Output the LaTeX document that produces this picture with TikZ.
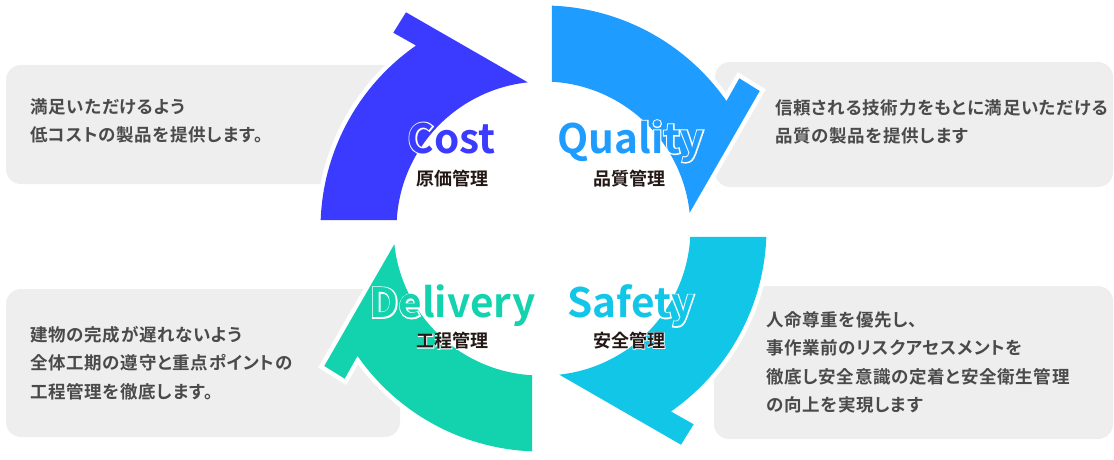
\documentclass[tikz,border=0pt]{standalone}
\usepackage{fontspec}
\newfontfamily\jpb{Noto Sans CJK JP Bold}
\newfontfamily\jpbody{Noto Sans CJK JP Bold}[RawFeature=+palt, LetterSpace=4]
\newfontfamily\jpbhalo{Noto Sans CJK JP Bold}[FakeBold=6]
\definecolor{costc}{HTML}{3B3BFF}
\definecolor{qualc}{HTML}{1E9CFF}
\definecolor{safec}{HTML}{12C6E8}
\definecolor{delic}{HTML}{13D3AE}
\definecolor{boxc}{HTML}{EEEEEE}
\definecolor{bodyc}{HTML}{4A4A4A}
\definecolor{lblc}{HTML}{231815}
\tikzset{
  infobox/.style={fill=boxc, rounded corners=15pt},
  arrowbody/.style={preaction={draw=white, line width=9pt, line join=miter}},
  bodytxt/.style={anchor=base west, inner sep=0pt, text=bodyc, font=\jpbody\fontsize{17.5}{20}\selectfont},
  biglbl/.style={anchor=base, inner sep=0pt, font=\jpb\fontsize{40.5}{41}\selectfont},
  bighalo/.style={anchor=base, inner sep=0pt, text=white, font=\jpbhalo\fontsize{40.5}{41}\selectfont},
  smalllbl/.style={inner sep=0pt, text=lblc, font=\jpb\fontsize{18}{18}\selectfont},
  smallhalo/.style={inner sep=0pt, text=white, font=\jpbhalo\fontsize{18}{18}\selectfont},
}
\newcommand\cyclearrow[3]{%
  \begin{scope}[shift={#2}, rotate=#1]
    \fill[#3, arrowbody] (177.82:223) arc[start angle=177.82, end angle=124.86, radius=223]
      -- (-150.2,195.8) -- (-137.5,216.2) -- (96.14:147)
      arc[start angle=96.14, end angle=176.69, radius=147] -- cycle;
  \end{scope}}
\newcommand\biglabel[4]{%
  \node[bighalo] (#1h) at #2 {#4};
  \node[biglbl, text=#3] (#1) at #2 {#4};}
\newcommand\smalllabel[3]{%
  \node[smallhalo] (#1h) at #2 {#3};
  \node[smalllbl] (#1) at #2 {#3};}
\begin{document}
\begin{tikzpicture}[x=1pt, y=1pt]
\useasboundingbox (0,0) rectangle (1114,459);
% info boxes
\fill[infobox] (6,275) rectangle (400,394);
\fill[infobox] (715,272) rectangle (1113,397);
\fill[infobox] (6,22) rectangle (400,170);
\fill[infobox] (714,20) rectangle (1113,173);
% cycle arrows
\cyclearrow{0}{(543.5,230.5)}{costc}
\cyclearrow{-90}{(543.5,230.5)}{qualc}
\cyclearrow{-180}{(543.5,230.5)}{safec}
\cyclearrow{90}{(540.5,230.5)}{delic}
% labels
\biglabel{cost}{(451.5,305.7)}{costc}{Cost}
\biglabel{quality}{(630.5,305.7)}{qualc}{Quality}
\biglabel{delivery}{(452.5,141.3)}{delic}{Delivery}
\biglabel{safety}{(630.8,141.3)}{safec}{Safety}
\smalllabel{costjp}{(452.5,280.3)}{原価管理}
\smalllabel{qualjp}{(629.2,280.3)}{品質管理}
\smalllabel{delijp}{(452.5,118.3)}{工程管理}
\smalllabel{safejp}{(629.2,118.5)}{安全管理}
% body texts
\node[bodytxt] (tl1) at (30,345.7) {満足いただけるよう};
\node[bodytxt] (tl2) at (30,317.7) {低コストの製品を提供します。};
\node[bodytxt] (tr1) at (775,344.7) {信頼される技術力をもとに満足いただける};
\node[bodytxt] (tr2) at (775,316.7) {品質の製品を提供します};
\node[bodytxt] (bl1) at (30,117.7) {建物の完成が遅れないよう};
\node[bodytxt] (bl2) at (30,89.4) {全体工期の遵守と重点ポイントの};
\node[bodytxt] (bl3) at (30,61) {工程管理を徹底します。};
\node[bodytxt] (br1) at (766,132.7) {人命尊重を優先し、};
\node[bodytxt] (br2) at (766,104.4) {事作業前のリスクアセスメントを};
\node[bodytxt] (br3) at (766,76) {徹底し安全意識の定着と安全衛生管理};
\node[bodytxt] (br4) at (766,47.7) {の向上を実現します};
\end{tikzpicture}
\end{document}
